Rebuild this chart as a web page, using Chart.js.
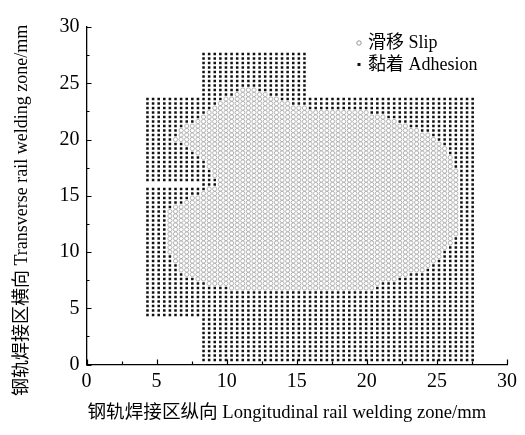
<!DOCTYPE html>
<html>
<head>
<meta charset="utf-8">
<script src="https://cdn.jsdelivr.net/npm/chart.js@4.4.0/dist/chart.umd.min.js"></script>
<style>
  html, body { margin: 0; padding: 0; background: #fff; }
  #wrap { width: 525px; height: 435px; }
</style>
</head>
<body>
<div id="wrap"><canvas id="c" width="525" height="435"></canvas></div>
<script>
// Measurement grid over the weld contact patch (mm)
const gridX0 = 4.35;
const gridY0 = 0.4;
const gridStep = 0.4;

// Contact patch blocks as grid column / row index ranges: left, centre, right
const blockColFrom = [0, 10, 29];
const blockColTo   = [9, 28, 58];
const blockRowFrom = [10, 0, 0];
const blockRowTo   = [58, 68, 58];
// Row without points in the left block
const leftBlockGapRow = 39;

// Slip zone: first / last slipping column for each row, starting at slipRowFrom
const slipRowFrom = 16;
const slipStartCol = [
  15, 11, 9, 7, 6, 6, 5, 5, 4, 4,      // rows 16-25
  4, 4, 4, 4, 4, 4, 4, 4, 5, 7,        // rows 26-35
  8, 10, 11, 13, 13, 12, 12, 11, 11, 10, // rows 36-45
  9, 8, 7, 5, 6, 6, 7, 9, 10, 11,      // rows 46-55
  12, 13, 14, 16, 17                    // rows 56-60
];
const slipEndCol = [
  40, 41, 44, 46, 49, 50, 51, 52, 52, 53,
  54, 54, 55, 55, 55, 55, 55, 55, 55, 55,
  55, 55, 55, 55, 55, 55, 55, 54, 54, 54,
  53, 53, 52, 51, 50, 48, 46, 44, 42, 39,
  28, 25, 23, 21, 19
];

const xTicks = [0, 5, 10, 15, 20, 25, 30];
const yTicks = [0, 5, 10, 15, 20, 25, 30];

const legendLabels = ['滑移 Slip', '黏着 Adhesion'];
const xTitle = '钢轨焊接区纵向 Longitudinal rail welding zone/mm';
const yTitle = '钢轨焊接区横向 Transverse rail welding zone/mm';

// Build the point sets
const slipPts = [];
const adhesionPts = [];
function isSlip(row, col) {
  const i = row - slipRowFrom;
  if (i < 0 || i >= slipStartCol.length) return false;
  return col >= slipStartCol[i] && col <= slipEndCol[i];
}
for (let b = 0; b < blockColFrom.length; b++) {
  for (let r = blockRowFrom[b]; r <= blockRowTo[b]; r++) {
    if (b === 0 && r === leftBlockGapRow) continue;
    for (let c = blockColFrom[b]; c <= blockColTo[b]; c++) {
      const p = { x: +(gridX0 + gridStep * c).toFixed(2), y: +(gridY0 + gridStep * r).toFixed(2) };
      (isSlip(r, c) ? slipPts : adhesionPts).push(p);
    }
  }
}

const serif = "'Liberation Serif', 'Noto Sans CJK SC', serif";

// Inward tick marks, axis titles and legend
const decor = {
  id: 'decor',
  afterDraw(chart) {
    const { ctx, chartArea: a, scales } = chart;
    const xs = scales.x, ys = scales.y;
    ctx.save();
    ctx.strokeStyle = '#000';
    ctx.lineWidth = 1.2;
    ctx.beginPath();
    for (let v = 0; v <= 30; v += 2.5) {
      const len = (v % 5 === 0) ? 5 : 3;
      const px = Math.round(xs.getPixelForValue(v)) + 0.5;
      ctx.moveTo(px, a.bottom);
      ctx.lineTo(px, a.bottom - len);
      const py = Math.round(ys.getPixelForValue(v)) + 0.5;
      ctx.moveTo(a.left, py);
      ctx.lineTo(a.left + len, py);
    }
    ctx.stroke();

    ctx.fillStyle = '#000';
    ctx.textBaseline = 'middle';
    ctx.textAlign = 'left';
    ctx.font = '18.6px ' + serif;
    ctx.fillText(xTitle, a.left + 1, 413);

    ctx.save();
    ctx.font = '18px ' + serif;
    ctx.translate(22, 396);
    ctx.rotate(-Math.PI / 2);
    ctx.fillText(yTitle, 0, 0);
    ctx.restore();

    // legend
    const lx = 359;
    ctx.font = '18px ' + serif;
    ctx.strokeStyle = '#8a8a8a';
    ctx.lineWidth = 0.9;
    ctx.beginPath();
    ctx.arc(lx, 43, 2.2, 0, Math.PI * 2);
    ctx.stroke();
    ctx.fillStyle = '#111';
    ctx.fillRect(lx - 1.5, 63, 3, 3);
    ctx.fillStyle = '#000';
    ctx.fillText(legendLabels[0], lx + 9, 43);
    ctx.fillText(legendLabels[1], lx + 9, 65);
    ctx.restore();
  }
};

new Chart(document.getElementById('c'), {
  type: 'scatter',
  data: {
    datasets: [
      {
        label: legendLabels[0],
        data: slipPts,
        pointStyle: 'circle',
        pointRadius: 2.1,
        pointBorderWidth: 0.8,
        pointBorderColor: '#a2a2a2',
        pointBackgroundColor: 'rgba(255,255,255,0)'
      },
      {
        label: legendLabels[1],
        data: adhesionPts,
        pointStyle: 'rect',
        pointRadius: 1.8,
        pointBorderWidth: 0,
        pointBackgroundColor: '#111'
      }
    ]
  },
  options: {
    responsive: false,
    animation: false,
    events: [],
    layout: { padding: { top: 27, right: 18, left: 0, bottom: 0 } },
    plugins: { legend: { display: false }, tooltip: { enabled: false } },
    scales: {
      x: {
        type: 'linear',
        min: 0, max: 30,
        afterBuildTicks(s) { s.ticks = xTicks.map(v => ({ value: v })); },
        afterFit(s) { s.height = 70.5; },
        grid: { display: false, drawTicks: false },
        border: { display: true, color: '#000', width: 1.3 },
        ticks: { color: '#000', font: { family: serif, size: 20 }, padding: 5, maxRotation: 0 }
      },
      y: {
        type: 'linear',
        min: 0, max: 30,
        afterBuildTicks(s) { s.ticks = yTicks.map(v => ({ value: v })); },
        afterFit(s) { s.width = 86.5; },
        grid: { display: false, drawTicks: false },
        border: { display: true, color: '#000', width: 1.3 },
        ticks: { color: '#000', font: { family: serif, size: 20 }, padding: 7 }
      }
    }
  },
  plugins: [decor]
});
</script>
</body>
</html>
